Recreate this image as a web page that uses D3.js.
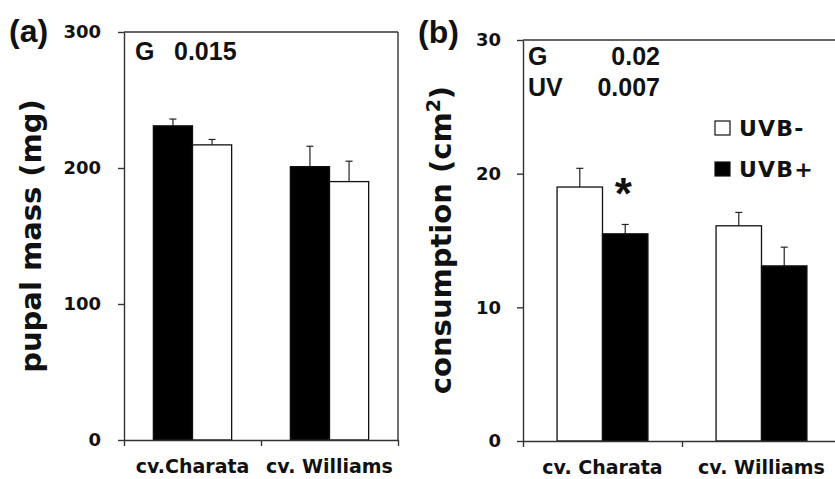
<!DOCTYPE html>
<html>
<head>
<meta charset="utf-8">
<script src="https://cdn.jsdelivr.net/npm/d3@7"></script>
<style>
  body { margin: 0; background: #fff; }
  text { fill: #111; }
</style>
</head>
<body>
<script>
// categories
var categoriesA = ["cv.Charata", "cv. Williams"];
var categoriesB = ["cv. Charata", "cv. Williams"];

// series order inside each group
var seriesA = ["UVB+", "UVB-"];
var seriesB = ["UVB-", "UVB+"];

// (a) pupal mass (mg)
var massPlus = [231, 201];
var massPlusErr = [5, 15];
var massMinus = [217, 190];
var massMinusErr = [4, 15];

// (b) consumption (cm2)
var consMinus = [19.0, 16.1];
var consMinusErr = [1.4, 1.0];
var consPlus = [15.5, 13.1];
var consPlusErr = [0.7, 1.4];

// tick labels
var ticksA = [0, 100, 200, 300];
var ticksB = [0, 10, 20, 30];

var fills = {"UVB-": "#fff", "UVB+": "#000"};

var w = 835, h = 479;
var tickFont = "'DejaVu Sans', sans-serif";
var statFont = "'Liberation Sans', Arial, sans-serif";

var svg = d3.select("body")
            .append("svg")
            .attr("width", w)
            .attr("height", h);

function drawPanel(p) {
    var y = d3.scaleLinear()
              .domain([0, p.yMax])
              .range([p.bottom, p.top]);

    var x = d3.scaleBand()
              .domain(p.categories)
              .range([p.left, p.right]);

    var xs = d3.scaleBand()
               .domain(p.series)
               .range([0, x.bandwidth()])
               .paddingOuter(0.75);

    // boundary ticks under the x axis
    var xb = d3.scaleLinear()
               .domain([0, p.categories.length])
               .range([p.left, p.right]);

    var g = svg.append("g");

    // bars
    var rows = [];
    p.categories.forEach(function(c, i){
        p.series.forEach(function(s){
            rows.push({cat: c, s: s, v: p.values[s][i], e: p.errors[s][i]});
        });
    });

    // error bars (upward only)
    g.selectAll(".err")
     .data(rows)
     .enter()
     .append("line")
     .attr("x1", function(d){ return x(d.cat) + xs(d.s) + xs.bandwidth()/2; })
     .attr("x2", function(d){ return x(d.cat) + xs(d.s) + xs.bandwidth()/2; })
     .attr("y1", function(d){ return y(d.v); })
     .attr("y2", function(d){ return y(d.v + d.e); })
     .attr("stroke", "#222")
     .attr("stroke-width", 1.2);

    g.selectAll(".cap")
     .data(rows)
     .enter()
     .append("line")
     .attr("x1", function(d){ return x(d.cat) + xs(d.s) + xs.bandwidth()/2 - 3.5; })
     .attr("x2", function(d){ return x(d.cat) + xs(d.s) + xs.bandwidth()/2 + 3.5; })
     .attr("y1", function(d){ return y(d.v + d.e); })
     .attr("y2", function(d){ return y(d.v + d.e); })
     .attr("stroke", "#222")
     .attr("stroke-width", 1.2);

    g.selectAll(".bar")
     .data(rows)
     .enter()
     .append("rect")
     .attr("x", function(d){ return x(d.cat) + xs(d.s); })
     .attr("y", function(d){ return y(d.v); })
     .attr("width", xs.bandwidth())
     .attr("height", function(d){ return y(0) - y(d.v); })
     .attr("fill", function(d){ return fills[d.s]; })
     .attr("stroke", "#111")
     .attr("stroke-width", 1.3);

    // frame lines
    g.append("line")
     .attr("x1", p.left).attr("x2", p.frameRight)
     .attr("y1", y(p.yMax)).attr("y2", y(p.yMax))
     .attr("stroke", "#333").attr("stroke-width", 1.4);
    if (p.frameRight < w) {
        g.append("line")
         .attr("x1", p.frameRight).attr("x2", p.frameRight)
         .attr("y1", y(p.yMax)).attr("y2", y(0))
         .attr("stroke", "#333").attr("stroke-width", 1.4);
    }

    // y axis
    var ya = g.append("g")
              .attr("transform", "translate(" + p.left + ",0)")
              .call(d3.axisLeft(y).tickValues(p.ticks).tickSize(6)
                      .tickSizeOuter(0).tickPadding(p.tickPad));
    ya.selectAll("path, line").attr("stroke", "#333").attr("stroke-width", 1.4);
    ya.selectAll("text")
      .style("font-family", tickFont)
      .style("font-weight", "bold")
      .style("font-size", "18px")
      .attr("fill", "#111");

    // x axis: boundary ticks
    var xa = g.append("g")
              .attr("transform", "translate(0," + p.bottom + ")")
              .call(d3.axisBottom(xb).tickValues(d3.range(p.categories.length + 1))
                      .tickSize(6).tickSizeOuter(0).tickFormat(""));
    xa.selectAll("path, line").attr("stroke", "#333").attr("stroke-width", 1.4);

    // x axis: category labels
    var xl = g.append("g")
              .attr("transform", "translate(0," + p.bottom + ")")
              .call(d3.axisBottom(x).tickSize(0));
    xl.select(".domain").remove();
    xl.selectAll("text")
      .attr("y", 33)
      .attr("dy", 0)
      .style("font-family", tickFont)
      .style("font-weight", "bold")
      .style("font-size", "19px")
      .attr("fill", "#111");

    // y label
    g.append("text")
     .attr("transform", "translate(" + p.labelX + "," + p.labelY + ") rotate(-90)")
     .attr("text-anchor", "middle")
     .style("font-family", tickFont)
     .style("font-weight", "bold")
     .style("font-size", "29px")
     .html(p.label);

    // panel letter
    g.append("text")
     .attr("x", p.letterX)
     .attr("y", p.letterY)
     .style("font-family", statFont)
     .style("font-weight", "bold")
     .style("font-size", "32px")
     .text(p.letter);

    return {x: x, xs: xs, y: y, g: g};
}

// panel (a)
var pa = drawPanel({
    categories: categoriesA, series: seriesA,
    values: {"UVB+": massPlus, "UVB-": massMinus},
    errors: {"UVB+": massPlusErr, "UVB-": massMinusErr},
    yMax: 300, ticks: ticksA,
    left: 124, right: 398, frameRight: 398, top: 32, bottom: 440,
    tickPad: 17,
    label: "pupal mass (mg)", labelX: 41, labelY: 236,
    letter: "(a)", letterX: 9, letterY: 42
});

pa.g.append("text")
    .attr("x", 135).attr("y", 60)
    .style("font-family", statFont).style("font-weight", "bold").style("font-size", "25px")
    .text("G");
pa.g.append("text")
    .attr("x", 174).attr("y", 60)
    .style("font-family", statFont).style("font-weight", "bold").style("font-size", "25px")
    .text("0.015");

// panel (b)
var pb = drawPanel({
    categories: categoriesB, series: seriesB,
    values: {"UVB-": consMinus, "UVB+": consPlus},
    errors: {"UVB-": consMinusErr, "UVB+": consPlusErr},
    yMax: 30, ticks: ticksB,
    left: 523, right: 841, frameRight: 841, top: 40, bottom: 441,
    tickPad: 16,
    label: "consumption (cm<tspan baseline-shift='super' font-size='19px'>2</tspan>)",
    labelX: 451, labelY: 240,
    letter: "(b)", letterX: 418, letterY: 43
});

var statsB = [["G", "0.02"], ["UV", "0.007"]];
statsB.forEach(function(s, i){
    pb.g.append("text")
        .attr("x", 528).attr("y", 65 + i * 31)
        .style("font-family", statFont).style("font-weight", "bold").style("font-size", "25px")
        .text(s[0]);
    pb.g.append("text")
        .attr("x", 660).attr("y", 65 + i * 31)
        .attr("text-anchor", "end")
        .style("font-family", statFont).style("font-weight", "bold").style("font-size", "25px")
        .text(s[1]);
});

// significance star above Charata UVB+
pb.g.append("text")
    .attr("x", pb.x(categoriesB[0]) + pb.xs("UVB+") + pb.xs.bandwidth()/2 - 2)
    .attr("y", pb.y(consPlus[0] + consPlusErr[0]) - 34 + 44 * 0.43)
    .attr("text-anchor", "middle")
    .style("font-family", statFont).style("font-weight", "bold").style("font-size", "44px")
    .text("*");

// legend
var legend = pb.g.selectAll(".legend")
    .data(["UVB-", "UVB+"])
    .enter()
    .append("g")
    .attr("transform", function(d, i){ return "translate(715," + (121 + i * 41) + ")"; });

legend.append("rect")
    .attr("width", 15).attr("height", 14)
    .attr("fill", function(d){ return fills[d]; })
    .attr("stroke", "#111").attr("stroke-width", 1.2);

legend.append("text")
    .attr("x", 24).attr("y", 15)
    .style("font-family", tickFont).style("font-weight", "bold").style("font-size", "22px")
    .style("letter-spacing", "1.2px")
    .text(function(d){ return d; });
</script>
</body>
</html>
